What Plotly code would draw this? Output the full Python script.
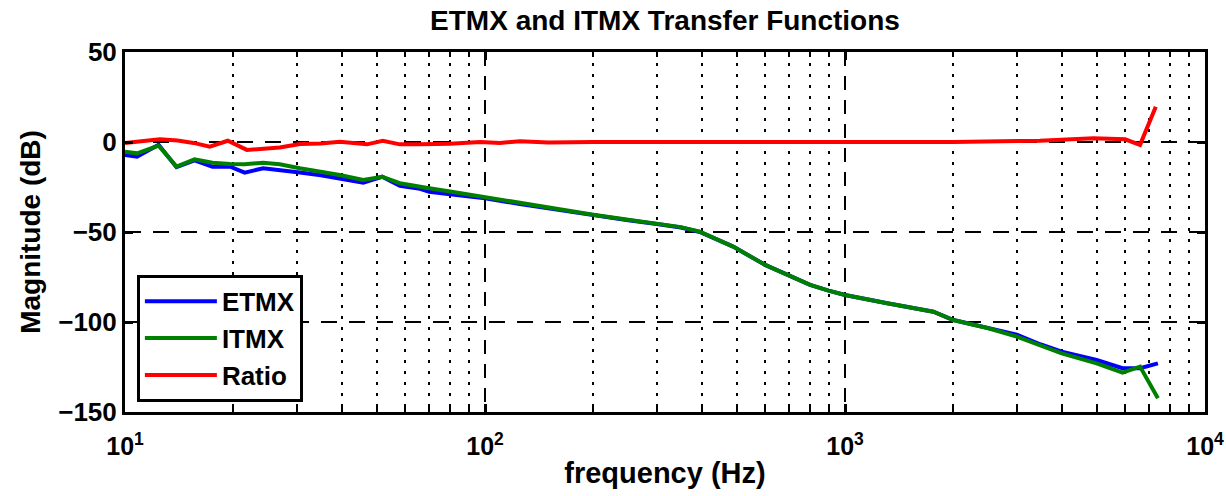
import plotly.graph_objects as go

# ---- data ----
freq_tf = [10, 10.8, 12.4, 13.9, 15.6, 17.5, 19.6, 21.5, 24.2, 26.9, 30.6, 35, 39.5,
           45.9, 51.8, 58, 66, 70, 80, 100, 125, 150, 200, 250, 300, 350, 395, 489,
           600, 700, 800, 900, 1000, 1310, 1760, 2000, 2500, 3000, 3500, 4000, 5000,
           5900, 6600, 7400]
etmx_db = [-7.2, -8.1, -1.5, -14.0, -10.2, -13.7, -13.7, -17.0, -14.6, -15.5, -17.0, -18.5,
           -20.2, -22.6, -19.3, -24.3, -26.0, -27.6, -29.0, -31.2, -34.5, -37.0, -41.0,
           -43.5, -45.5, -47.5, -50.0, -58.1, -68.3, -74.4, -79.4, -82.6, -85.0, -89.6,
           -94.3, -98.9, -103.5, -107.0, -112.5, -116.5, -121.1, -125.7, -125.7, -123.0]
itmx_db = [-5.4, -6.3, -2.0, -13.7, -9.6, -11.5, -12.2, -12.4, -11.5, -12.4, -14.6, -16.5,
           -18.3, -21.1, -19.3, -22.9, -24.5, -25.7, -27.5, -30.7, -34.0, -36.5, -40.4,
           -43.2, -45.3, -47.3, -49.8, -58.1, -68.3, -74.4, -79.4, -82.6, -85.0, -89.6,
           -94.3, -98.9, -103.5, -108.1, -113.0, -117.4, -123.0, -128.1, -124.8, -142.4]
freq_ratio = [10, 11, 12.5, 14, 15.5, 17.2, 19.3, 21.8, 24, 26.9, 30.6, 35, 39.5, 47, 52,
              58, 66, 80, 97, 110, 125, 150, 200, 400, 1000, 2000, 3480, 4900, 6000,
              6600, 7300]
ratio_db = [-0.5, 0.3, 1.5, 0.8, -0.5, -2.6, 0.7, -4.4, -3.8, -3.1, -1.1, -0.8, 0.2, -1.3,
            0.7, -1.3, -1.3, -1.0, 0.0, -0.5, 0.4, -0.3, 0.0, 0.0, 0.0, 0.0, 0.7, 2.1,
            1.5, -1.6, 19.6]

x_tickvals = [10, 100, 1000, 10000]
x_ticktext = ["<b>10<sup>1</sup></b>", "<b>10<sup>2</sup></b>",
              "<b>10<sup>3</sup></b>", "<b>10<sup>4</sup></b>"]
x_minor_vals = [m * d for d in (10, 100, 1000) for m in range(2, 10)]
y_tickvals = [-150, -100, -50, 0, 50]
y_ticktext = ["<b>\u2212150</b>", "<b>\u2212100</b>", "<b>\u221250</b>", "<b>0</b>", "<b>50</b>"]

FONT = "Liberation Sans, Arial, sans-serif"

fig = go.Figure()
fig.add_trace(go.Scatter(x=freq_tf, y=etmx_db, name="<b>ETMX</b>", mode="lines",
                         line=dict(color="#0000ff", width=4)))
fig.add_trace(go.Scatter(x=freq_tf, y=itmx_db, name="<b>ITMX</b>", mode="lines",
                         line=dict(color="#008000", width=4)))
fig.add_trace(go.Scatter(x=freq_ratio, y=ratio_db, name="<b>Ratio</b>", mode="lines",
                         line=dict(color="#ff0000", width=4)))

fig.update_layout(
    width=1226, height=496,
    margin=dict(l=125, r=21, t=52, b=84),
    paper_bgcolor="white", plot_bgcolor="white",
    font=dict(family=FONT, color="black", size=24),
    title=dict(text="<b>ETMX and ITMX Transfer Functions</b>", x=665/1226, xanchor="center",
               y=1 - 20/496, yanchor="middle", font=dict(size=28, family=FONT)),
    showlegend=True,
    legend=dict(x=0.011, y=0.028, xanchor="left", yanchor="bottom",
                bgcolor="white", bordercolor="black", borderwidth=3,
                font=dict(size=26, family=FONT), itemwidth=72,
                tracegroupgap=0),
)

fig.update_xaxes(
    type="log", range=[1, 4], automargin=False,
    tickvals=x_tickvals, ticktext=x_ticktext,
    tickfont=dict(size=25, family=FONT), ticklabelstandoff=10,
    ticks="inside", ticklen=8, tickwidth=3, tickcolor="black",
    showline=True, linewidth=3, linecolor="black", mirror="ticks",
    showgrid=True, gridcolor="black", gridwidth=1.5, griddash="14px,10px",
    minor=dict(tickvals=x_minor_vals, ticks="inside", ticklen=5, tickwidth=2,
               tickcolor="black", showgrid=True, gridcolor="black", gridwidth=2,
               griddash="3px,8px"),
    title=dict(text="<b>frequency (Hz)</b>", font=dict(size=29, family=FONT), standoff=4),
    zeroline=False,
)
fig.update_yaxes(
    range=[-150, 50], tickvals=y_tickvals, ticktext=y_ticktext, automargin=False,
    tickfont=dict(size=26, family=FONT),
    ticks="inside", ticklen=8, tickwidth=3, tickcolor="black",
    showline=True, linewidth=3, linecolor="black", mirror="ticks",
    showgrid=True, gridcolor="black", gridwidth=1.5, griddash="16px,12px",
    title=dict(text="<b>Magnitude (dB)</b>", font=dict(size=28, family=FONT), standoff=10),
    zeroline=False,
)

fig.write_html("out.html")
